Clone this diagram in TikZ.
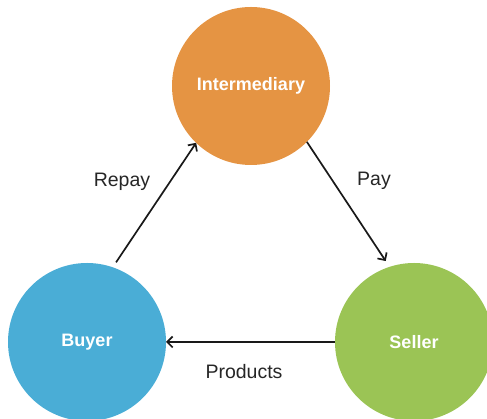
\documentclass[tikz,border=0pt]{standalone}
\usepackage{fontspec}
\setmainfont{Liberation Sans}
\usepackage{tikz}
\usepackage{tkz-graph}
\usepackage{xcolor}
\usetikzlibrary{arrows.meta}

\definecolor{interorange}{HTML}{E59443}
\definecolor{buyerblue}{HTML}{4AADD6}
\definecolor{sellergreen}{HTML}{9BC455}

\begin{document}
\begin{tikzpicture}[x=1pt,y=1pt]
		\useasboundingbox (0,0) rectangle (487,419);
		\clip (0,0) rectangle (487,419);

		\SetVertexNormal[
		Shape 		= circle,
		LineWidth 	= 0pt]
		\tikzset{
		VertexStyle/.append style = {draw=none, minimum size=158pt, inner sep=0pt,
			text=white, font=\bfseries\fontsize{18}{20}\selectfont},
		flow/.style = {draw=black!90, line width=1.7pt,
			-{Straight Barb[length=5.5pt,width=11pt]}},
		flowlabel/.style = {font=\fontsize{19.5}{22}\selectfont, text=black!85}}

		\renewcommand{\VertexLightFillColor}{interorange}
		\Vertex[x=251,y=333,L=Intermediary]{inter}

		\renewcommand{\VertexLightFillColor}{buyerblue}
		\Vertex[x=87,y=77,L=Buyer]{buyer}

		\renewcommand{\VertexLightFillColor}{sellergreen}
		\Vertex[x=414,y=77,L=Seller]{seller}

		\draw[flow, shorten <=6pt] (buyer.71) -- (inter.226);
		\draw[flow, shorten >=7pt] (inter.315) -- (seller.108);
		\draw[flow] (seller.west) -- (buyer.east);

		\node[flowlabel] (repay) at (122,237) {Repay};
		\node[flowlabel] (pay) at (374,238) {Pay};
		\node[flowlabel] (products) at (244,47) {Products};

		\end{tikzpicture}
\end{document}
